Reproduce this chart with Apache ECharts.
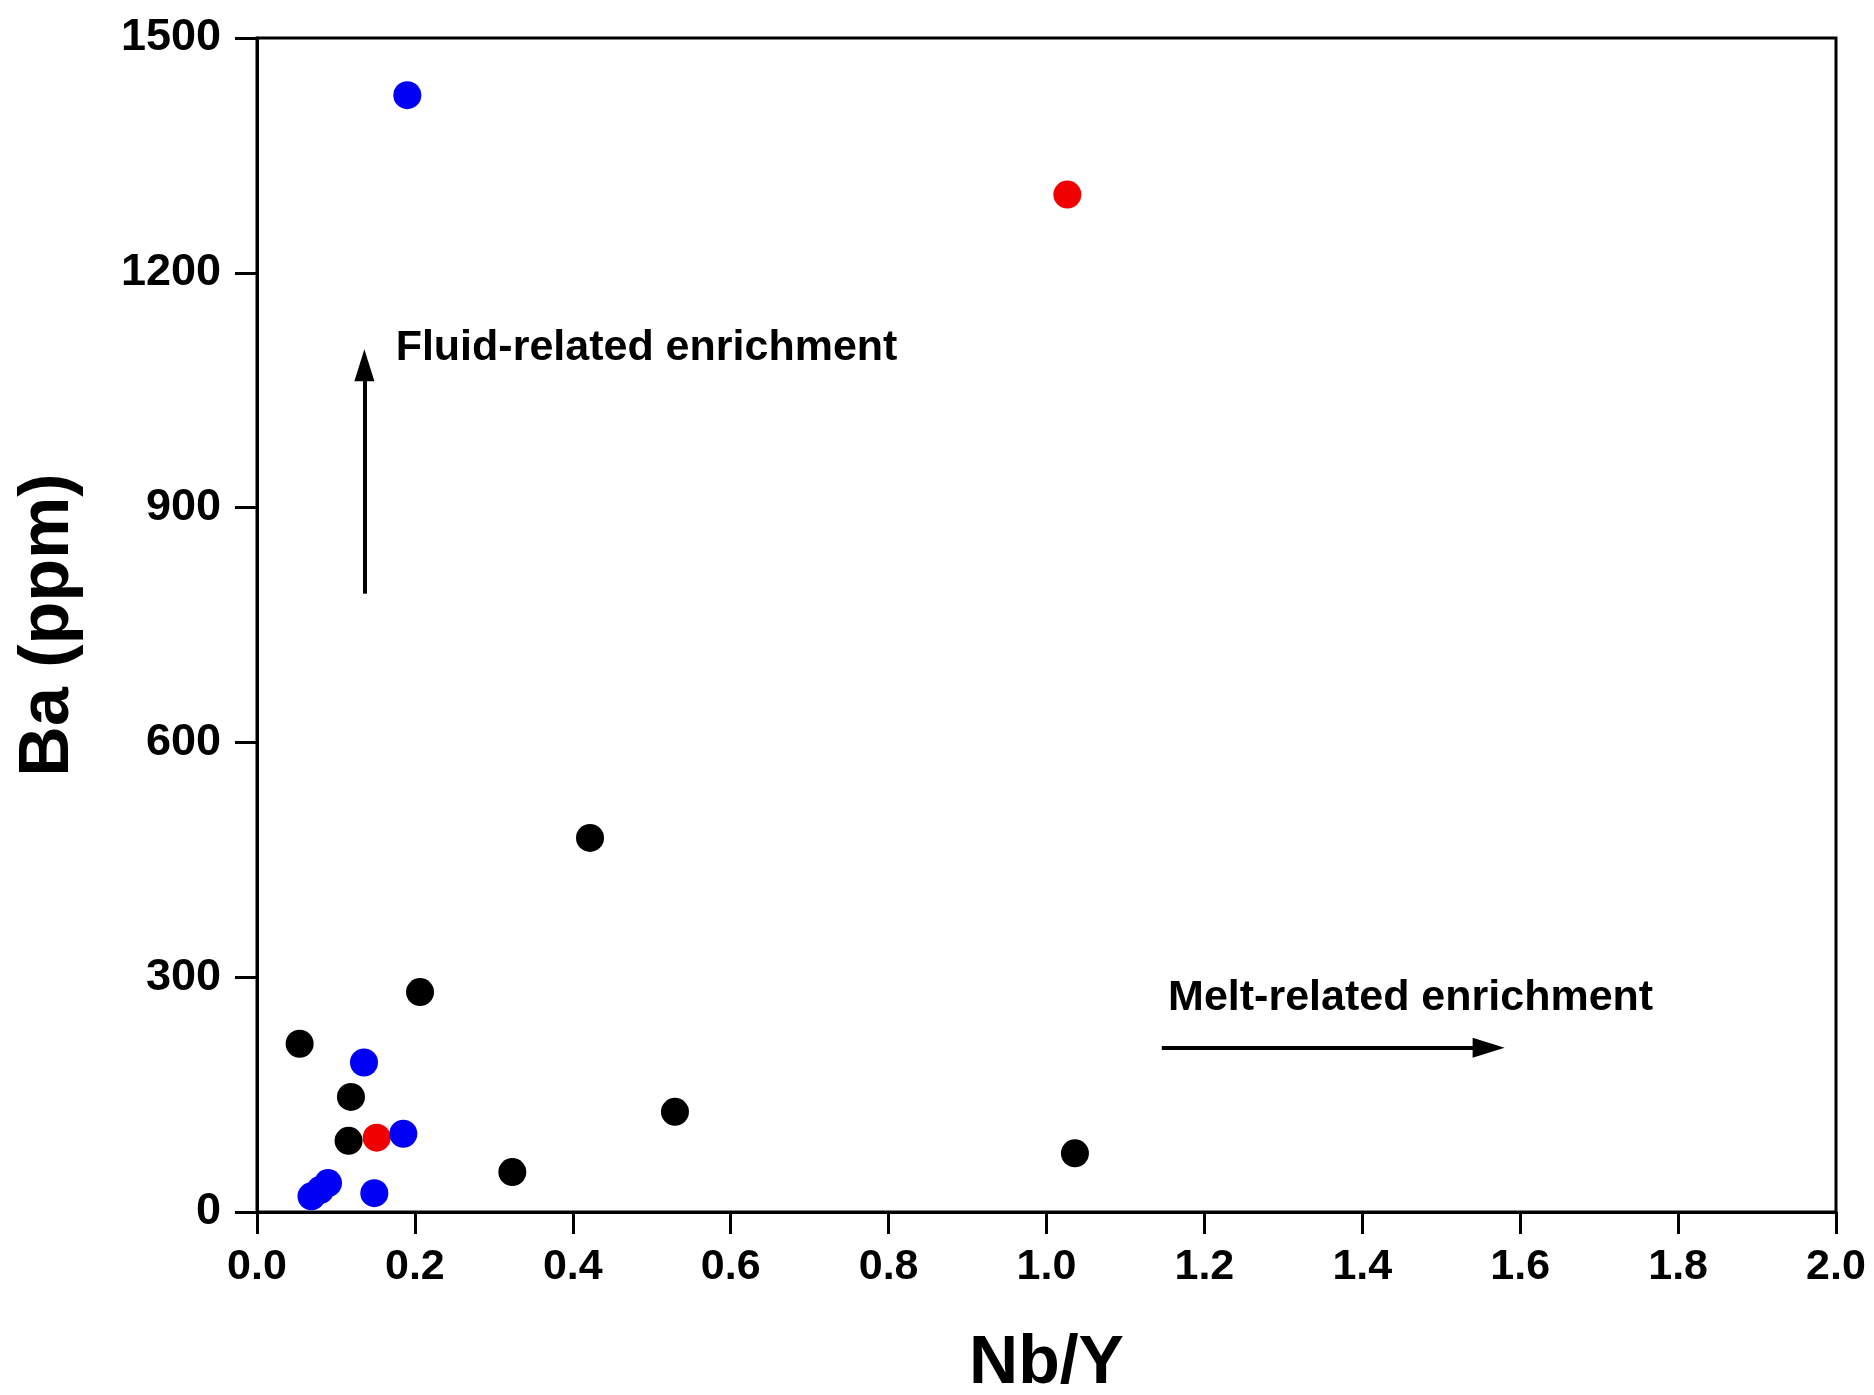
<!DOCTYPE html>
<html>
<head>
<meta charset="utf-8">
<script src="https://cdn.jsdelivr.net/npm/echarts@6/dist/echarts.min.js"></script>
<style>
html,body{margin:0;padding:0;background:#fff;}
#c{width:1874px;height:1395px;}
</style>
</head>
<body>
<div id="c"></div>
<script>
// Nb/Y vs Ba (ppm)
const blackPts = [[0.054,215],[0.119,147],[0.116,91],[0.2065,281],[0.3234,51],[0.4218,478],[0.5294,128],[1.036,75]];
const redPts = [[1.0264,1300],[0.1516,95]];
const bluePts = [[0.1904,1427],[0.1355,191],[0.1853,100],[0.069,20],[0.080,28],[0.090,37],[0.1486,24]];
const xTicks = [0.0,0.2,0.4,0.6,0.8,1.0,1.2,1.4,1.6,1.8,2.0];
const yTicks = [0,300,600,900,1200,1500];
// annotations (data coordinates)
const fluidArrow = [[0.136,790],[0.136,1082]];
const meltArrow = [[1.146,210],[1.560,210]];
const fluidLabel = {text:'Fluid-related enrichment', at:[0.1756,1076]};
const meltLabel = {text:'Melt-related enrichment', at:[1.154,246]};

const FONT = '"Liberation Sans", Arial, sans-serif';
const chart = echarts.init(document.getElementById('c'));
const arrowLine = (pts) => ({
  silent:true, symbol:['none','triangle'], symbolSize:[20,32],
  lineStyle:{color:'#000',width:4,type:'solid'},
  label:{show:false},
  data:[[{coord:pts[0]},{coord:pts[1]}]]
});
chart.setOption({
  animation:false,
  backgroundColor:'#fff',
  grid:{left:257,top:38,width:1579,height:1174,show:true,borderColor:'#000',borderWidth:3,backgroundColor:'transparent',
    containLabel:false,outerBoundsMode:'none'},
  xAxis:{
    type:'value',min:0,max:2.0,interval:0.2,
    name:'Nb/Y',nameLocation:'middle',nameGap:118,
    nameTextStyle:{fontFamily:FONT,fontWeight:'bold',fontSize:68,color:'#000'},
    axisLine:{show:true,lineStyle:{color:'#000',width:3}},
    axisTick:{show:true,inside:false,length:22,lineStyle:{color:'#000',width:3}},
    splitLine:{show:false},
    axisLabel:{margin:34,fontFamily:FONT,fontWeight:'bold',fontSize:43,color:'#000',
      formatter:(v)=>{const t=xTicks.find(a=>Math.abs(a-v)<1e-9);return t===undefined?'':t.toFixed(1);}}
  },
  yAxis:{
    type:'value',min:0,max:1500,interval:300,
    name:'Ba (ppm)',nameLocation:'middle',nameGap:173,nameRotate:90,
    nameTextStyle:{fontFamily:FONT,fontWeight:'bold',fontSize:70,color:'#000'},
    axisLine:{show:true,lineStyle:{color:'#000',width:3}},
    axisTick:{show:true,inside:false,length:22,lineStyle:{color:'#000',width:3}},
    splitLine:{show:false},
    axisLabel:{margin:36,fontFamily:FONT,fontWeight:'bold',fontSize:45,color:'#000',
      formatter:(v)=>{const t=yTicks.find(a=>Math.abs(a-v)<1e-9);return t===undefined?'':String(t);}}
  },
  series:[
    {type:'scatter',name:'black',data:blackPts,symbol:'circle',symbolSize:28,itemStyle:{color:'#000',opacity:1},
      markLine:arrowLine(fluidArrow)},
    {type:'scatter',name:'red',data:redPts,symbol:'circle',symbolSize:28,itemStyle:{color:'#f00000',opacity:1},
      markLine:arrowLine(meltArrow)},
    {type:'scatter',name:'blue',data:bluePts,symbol:'circle',symbolSize:28,itemStyle:{color:'#0000f5',opacity:1}}
  ]
});
const mkText = (lab) => {
  const p = chart.convertToPixel({gridIndex:0}, lab.at);
  return {type:'text',x:p[0],y:p[1],silent:true,
    style:{text:lab.text,font:'bold 43px '+FONT,fill:'#000',textAlign:'left',textVerticalAlign:'bottom'}};
};
chart.setOption({graphic:[mkText(fluidLabel),mkText(meltLabel)]});
</script>
</body>
</html>
